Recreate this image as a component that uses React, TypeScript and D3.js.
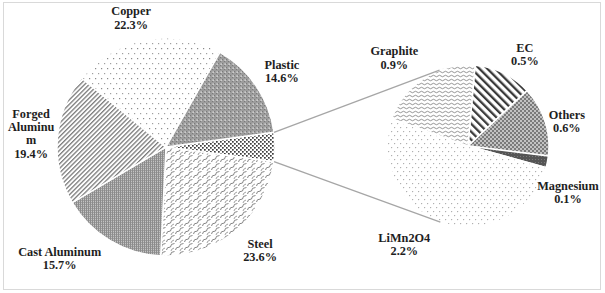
import React from "react";
import * as d3 from "d3";

const mainLabels = ["Steel", "Cast Aluminum", "Forged\nAluminu\nm", "Copper", "Plastic"];
const mainValues = [23.6, 15.7, 19.4, 22.3, 14.6];
const subLabels = ["EC", "Others", "Magnesium", "LiMn2O4", "Graphite"];
const subValues = [0.5, 0.6, 0.1, 2.2, 0.9];

const W = 605, H = 293;
const C1 = { x: 166, y: 147, r: 109 };
const C2 = { x: 468, y: 146, r: 81 };
const mainPatterns = ["steel", "cast", "forged", "copper", "plastic"];
const subPatterns = ["ec", "others", "mg", "limn", "graphite"];
const mainOffsets = [[7, -1], [-36, -5], [1, -3], [-10, 5], [3, 1]];
const subOffsets = [[11, 3], [-1, 8], [-3, 26], [-32, -1.5], [-17, 0.5]];
const LH = 13.3;

type Item = { label: string; value: number; pat: string; off: number[]; group?: boolean };

function tangentPoints(px: number, py: number, c: { x: number; y: number; r: number }) {
  const dx = px - c.x, dy = py - c.y;
  const d = Math.hypot(dx, dy);
  const th = Math.atan2(dy, dx);
  const phi = Math.acos(c.r / d);
  return [th - phi, th + phi].map((a) => [c.x + c.r * Math.cos(a), c.y + c.r * Math.sin(a)]);
}

export default function App() {
  const groupValue = d3.sum(subValues);
  const deg = Math.PI / 180;
  const groupAngle = (groupValue / (groupValue + d3.sum(mainValues))) * 2 * Math.PI;
  const start1 = Math.PI / 2 - groupAngle / 2;

  const mainItems: Item[] = [
    { label: "", value: groupValue, pat: "group", off: [0, 0], group: true },
    ...mainLabels.map((l, i) => ({ label: l, value: mainValues[i], pat: mainPatterns[i], off: mainOffsets[i] })),
  ];
  const subItems: Item[] = subLabels.map((l, i) => ({ label: l, value: subValues[i], pat: subPatterns[i], off: subOffsets[i] }));

  const pie1 = d3.pie<Item>().sort(null).value((d) => d.value).startAngle(start1).endAngle(start1 + 2 * Math.PI);
  const pie2 = d3.pie<Item>().sort(null).value((d) => d.value).startAngle(5 * deg).endAngle(5 * deg + 2 * Math.PI);
  const arcs1 = pie1(mainItems);
  const arcs2 = pie2(subItems);
  const arc1 = d3.arc<d3.PieArcDatum<Item>>().innerRadius(0).outerRadius(C1.r);
  const arc2 = d3.arc<d3.PieArcDatum<Item>>().innerRadius(0).outerRadius(C2.r);

  const g = arcs1[0];
  const pUp = [C1.x + C1.r * Math.sin(g.startAngle), C1.y - C1.r * Math.cos(g.startAngle)];
  const pDn = [C1.x + C1.r * Math.sin(g.endAngle), C1.y - C1.r * Math.cos(g.endAngle)];
  const tUp = tangentPoints(pUp[0], pUp[1], C2).sort((a, b) => a[1] - b[1])[0];
  const tDn = tangentPoints(pDn[0], pDn[1], C2).sort((a, b) => b[1] - a[1])[0];

  const labelPos = (a: d3.PieArcDatum<Item>, c: { x: number; y: number; r: number }, k: number) => {
    const m = (a.startAngle + a.endAngle) / 2;
    return [c.x + c.r * k * Math.sin(m) + a.data.off[0], c.y - c.r * k * Math.cos(m) + a.data.off[1]];
  };

  const renderLabel = (a: d3.PieArcDatum<Item>, c: any, k: number, key: string) => {
    if (a.data.group) return null;
    const [x, y] = labelPos(a, c, k);
    const lines = [...a.data.label.split("\n"), `${a.data.value.toFixed(1)}%`];
    const y0 = y - ((lines.length - 1) * LH) / 2;
    return (
      <text key={key} x={x} y={y0} textAnchor="middle" fontFamily="'Liberation Serif', 'Times New Roman', serif" fontWeight="bold" fontSize={12.3} fill="#1e1e1e">
        {lines.map((t, i) => (
          <tspan key={i} x={x} y={y0 + i * LH} dominantBaseline="central">{t}</tspan>
        ))}
      </text>
    );
  };

  return (
    <svg width={W} height={H} style={{ position: "absolute", left: 0, top: 0, background: "#fff" }}>
      <defs>
        <pattern id="copper" width="6" height="10" patternUnits="userSpaceOnUse">
          <rect width="6" height="10" fill="#fff" />
          <rect x="1" y="1" width="1.2" height="1.2" fill="#8a8a8a" />
          <rect x="4" y="6" width="1.2" height="1.2" fill="#a0a0a0" />
        </pattern>
        <pattern id="plastic" width="4" height="4" patternUnits="userSpaceOnUse">
          <rect width="4" height="4" fill="#9c9c9c" />
          <rect x="0" y="0" width="1" height="1" fill="#7a7a7a" />
          <rect x="2" y="2" width="1" height="1" fill="#7a7a7a" />
          <rect x="2.5" y="0.5" width="1.3" height="1.3" fill="#e8e8e8" />
        </pattern>
        <pattern id="group" width="4" height="4" patternUnits="userSpaceOnUse">
          <rect width="4" height="4" fill="#fff" />
          <rect x="0" y="0" width="1.7" height="1.7" fill="#3c3c3c" />
          <rect x="2" y="2" width="1.7" height="1.7" fill="#3c3c3c" />
        </pattern>
        <pattern id="steel" width="9" height="8" patternUnits="userSpaceOnUse">
          <rect width="9" height="8" fill="#fff" />
          <path d="M0.5,7 Q0.5,4 4.5,4 M4.5,4 Q4.5,0.5 8.5,0.5" fill="none" stroke="#777" strokeWidth="0.9" />
          <path d="M5,8 Q5,6 8,5" fill="none" stroke="#888" strokeWidth="0.8" />
        </pattern>
        <pattern id="cast" width="2" height="2" patternUnits="userSpaceOnUse">
          <rect width="2" height="2" fill="#c4c4c4" />
          <rect x="0" y="0" width="1" height="2" fill="#8c8c8c" />
          <rect x="1" y="1" width="1" height="1" fill="#9e9e9e" />
        </pattern>
        <pattern id="forged" width="3.2" height="3.2" patternUnits="userSpaceOnUse" patternTransform="rotate(45)">
          <rect width="3.2" height="3.2" fill="#fff" />
          <rect x="0" y="0" width="1.3" height="3.2" fill="#7c7c7c" />
        </pattern>
        <pattern id="graphite" width="6" height="4" patternUnits="userSpaceOnUse">
          <rect width="6" height="4" fill="#fff" />
          <path d="M0,2 Q1.5,0.5 3,2 T6,2" fill="none" stroke="#7a7a7a" strokeWidth="0.8" />
        </pattern>
        <pattern id="ec" width="5.6" height="5.6" patternUnits="userSpaceOnUse" patternTransform="rotate(-45)">
          <rect width="5.6" height="5.6" fill="#fff" />
          <rect x="0" y="0" width="2.3" height="5.6" fill="#3a3a3a" />
        </pattern>
        <pattern id="others" width="4" height="4" patternUnits="userSpaceOnUse">
          <rect width="4" height="4" fill="#c2c2c2" />
          <rect x="0" y="0" width="2" height="2" fill="#7a7a7a" />
          <rect x="2" y="2" width="2" height="2" fill="#7a7a7a" />
        </pattern>
        <pattern id="mg" width="3" height="3" patternUnits="userSpaceOnUse">
          <rect width="3" height="3" fill="#555" />
          <rect x="1" y="1" width="1" height="1" fill="#7a7a7a" />
        </pattern>
        <pattern id="limn" width="6" height="8" patternUnits="userSpaceOnUse">
          <rect width="6" height="8" fill="#fff" />
          <path d="M1,1 L2.4,1 L1.7,2.4 Z" fill="#9a9a9a" />
          <path d="M4,5 L5.4,5 L4.7,6.4 Z" fill="#9a9a9a" />
        </pattern>
      </defs>
      <rect x={3.5} y={2.5} width={597} height={287} fill="#fff" stroke="#d9d9d9" strokeWidth={1} />
      <g transform={`translate(${C1.x},${C1.y})`}>
        {arcs1.map((a, i) => (
          <path key={i} d={arc1(a) || ""} fill={`url(#${a.data.pat})`} stroke="#fff" strokeWidth={1.5} />
        ))}
      </g>
      <g transform={`translate(${C2.x},${C2.y})`}>
        {arcs2.map((a, i) => (
          <path key={i} d={arc2(a) || ""} fill={`url(#${a.data.pat})`} stroke="#fff" strokeWidth={1.5} />
        ))}
      </g>
      <line x1={pUp[0]} y1={pUp[1]} x2={tUp[0]} y2={tUp[1]} stroke="#a6a6a6" strokeWidth={1.3} />
      <line x1={pDn[0]} y1={pDn[1]} x2={tDn[0]} y2={tDn[1]} stroke="#a6a6a6" strokeWidth={1.3} />
      {arcs1.map((a, i) => renderLabel(a, C1, 1.25, "m" + i))}
      {arcs2.map((a, i) => renderLabel(a, C2, 105 / 81, "s" + i))}
    </svg>
  );
}
